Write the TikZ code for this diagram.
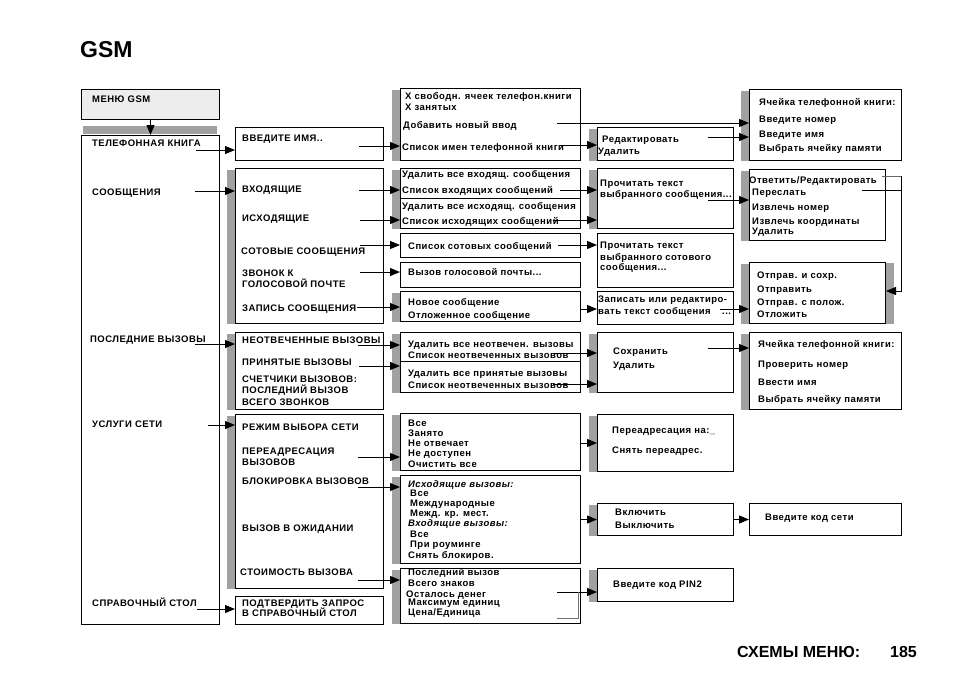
\documentclass[tikz,border=0pt]{standalone}
\usepackage{fontspec}
\setmainfont{Liberation Sans}
\newfontfamily\menufont[LetterSpace=5]{Liberation Sans}
\usetikzlibrary{arrows.meta}

\tikzset{
  box/.style={draw, line width=1pt, anchor=north west, inner sep=0pt, fill=white},
  bar/.style={fill=black!37},
  txt/.style={anchor=base west, inner sep=0pt, font=\menufont\fontsize{9.5}{11}\selectfont\bfseries},
  arr/.style={line width=1pt, -{Triangle[length=10pt,width=8pt]}},
  ln/.style={line width=1pt},
}

\begin{document}
\begin{tikzpicture}[x=1pt,y=-1pt]
  \useasboundingbox (0,0) rectangle (954,673);

  \node[anchor=base west, inner sep=0pt, font=\fontsize{23}{26}\selectfont\bfseries] (title) at (80,57) {GSM};
  \node[anchor=base west, inner sep=0pt, font=\fontsize{16}{18}\selectfont\bfseries] (foot) at (737,657) {СХЕМЫ МЕНЮ:};
  \node[anchor=base west, inner sep=0pt, font=\fontsize{16}{18}\selectfont\bfseries] (page) at (890,657) {185};

  % boxes
  \node[box, fill=black!7, minimum width=138, minimum height=30] (menu) at (81,89) {};
  \node[box, minimum width=138, minimum height=489] (main) at (81,135) {};
  \fill[bar] (83,126) rectangle (217,134);

  \node[box, minimum width=148, minimum height=33] (enter) at (235,127) {};
  \node[box, minimum width=148, minimum height=155] (msgs) at (235,168) {};
  \node[box, minimum width=148, minimum height=77] (calls) at (235,332) {};
  \node[box, minimum width=148, minimum height=174] (serv) at (235,414) {};
  \node[box, minimum width=148, minimum height=28] (help) at (235,596) {};

  \node[box, minimum width=180, minimum height=72] (bookinfo) at (400,88) {};
  \node[box, minimum width=180, minimum height=30] (inlist) at (400,168) {};
  \node[box, minimum width=180, minimum height=30] (outlist) at (400,198) {};
  \node[box, minimum width=180, minimum height=24] (celllist) at (400,233) {};
  \node[box, minimum width=180, minimum height=25] (voice) at (400,262) {};
  \node[box, minimum width=180, minimum height=30] (newmsg) at (400,291) {};
  \node[box, minimum width=180, minimum height=29] (missed) at (400,332) {};
  \node[box, minimum width=180, minimum height=31] (received) at (400,361) {};
  \node[box, minimum width=180, minimum height=57] (fwdopt) at (400,413) {};
  \node[box, minimum width=180, minimum height=88] (barring) at (400,475) {};
  \node[box, minimum width=180, minimum height=55] (cost) at (400,568) {};

  \node[box, minimum width=136, minimum height=33] (edit) at (597,127) {};
  \node[box, minimum width=136, minimum height=60] (readin) at (597,168) {};
  \node[box, minimum width=136, minimum height=54] (readcell) at (597,233) {};
  \node[box, minimum width=136, minimum height=33] (write) at (597,291) {};
  \node[box, minimum width=136, minimum height=60] (save) at (597,332) {};
  \node[box, minimum width=136, minimum height=57] (fwdto) at (597,414) {};
  \node[box, minimum width=136, minimum height=32] (onoff) at (597,503) {};
  \node[box, minimum width=136, minimum height=33] (pin) at (597,568) {};

  \node[box, minimum width=152, minimum height=71] (cell1) at (749,89) {};
  \node[box, minimum width=136, minimum height=71] (reply) at (749,169) {};
  \node[box, minimum width=136, minimum height=61] (send) at (749,262) {};
  \node[box, minimum width=152, minimum height=77] (cell2) at (749,332) {};
  \node[box, minimum width=152, minimum height=32] (netcode) at (749,503) {};

  % grey edges
  \foreach \b in {msgs,calls,serv,bookinfo,newmsg,fwdopt,barring,cost,edit,readin,save,fwdto,onoff,pin,cell1,reply,send,cell2}
    \fill[bar] ([xshift=-8pt,yshift=-2pt]\b.north west) rectangle (\b.south west);
  \fill[bar] ([xshift=-8pt,yshift=-2pt]inlist.north west) rectangle (outlist.south west);
  \fill[bar] ([xshift=-8pt,yshift=-2pt]missed.north west) rectangle (received.south west);
  \fill[bar] ([yshift=-1pt]send.north east) rectangle ([xshift=8pt]send.south east);

  % texts
  \node[txt] (menu-t) at (92,102) {МЕНЮ GSM};
  \node[txt] (book) at (92,146) {ТЕЛЕФОННАЯ КНИГА};
  \node[txt] (msg) at (92,195) {СООБЩЕНИЯ};
  \node[txt] (last) at (90,342) {ПОСЛЕДНИЕ ВЫЗОВЫ};
  \node[txt] (serv-t) at (92,427) {УСЛУГИ СЕТИ};
  \node[txt] (desk) at (92,606) {СПРАВОЧНЫЙ СТОЛ};

  \node[txt] (enter-t) at (242,141) {ВВЕДИТЕ ИМЯ..};
  \node[txt] (in-t) at (242,192) {ВХОДЯЩИЕ};
  \node[txt] (out-t) at (242,221) {ИСХОДЯЩИЕ};
  \node[txt] (cb-t) at (241,254) {СОТОВЫЕ СООБЩЕНИЯ};
  \node[txt] (vm-a) at (242,276) {ЗВОНОК К};
  \node[txt] (vm-b) at (242,287) {ГОЛОСОВОЙ ПОЧТЕ};
  \node[txt] (rec-t) at (242,311) {ЗАПИСЬ СООБЩЕНИЯ};
  \node[txt] (missed-t) at (242,343) {НЕОТВЕЧЕННЫЕ ВЫЗОВЫ};
  \node[txt] (recv-t) at (242,365) {ПРИНЯТЫЕ ВЫЗОВЫ};
  \node[txt] (cnt-a) at (242,382) {СЧЕТЧИКИ ВЫЗОВОВ:};
  \node[txt] (cnt-b) at (242,393) {ПОСЛЕДНИЙ ВЫЗОВ};
  \node[txt] (cnt-c) at (242,405) {ВСЕГО ЗВОНКОВ};
  \node[txt] (mode-t) at (242,430) {РЕЖИМ ВЫБОРА СЕТИ};
  \node[txt] (fw-a) at (242,454) {ПЕРЕАДРЕСАЦИЯ};
  \node[txt] (fw-b) at (242,465) {ВЫЗОВОВ};
  \node[txt] (bar-t) at (242,484) {БЛОКИРОВКА ВЫЗОВОВ};
  \node[txt] (wait-t) at (242,531) {ВЫЗОВ В ОЖИДАНИИ};
  \node[txt] (cost-t) at (240,575) {СТОИМОСТЬ ВЫЗОВА};
  \node[txt] (conf-a) at (242,606) {ПОДТВЕРДИТЬ ЗАПРОС};
  \node[txt] (conf-b) at (242,616) {В СПРАВОЧНЫЙ СТОЛ};

  \node[txt] (info-a) at (405,99) {Х свободн. ячеек телефон.книги};
  \node[txt] (info-b) at (405,110) {Х занятых};
  \node[txt] (info-c) at (403,128) {Добавить новый ввод};
  \node[txt] (info-d) at (402,150) {Список имен телефонной книги};
  \node[txt] (in-a) at (402,177) {Удалить все входящ. сообщения};
  \node[txt] (in-b) at (402,193) {Список входящих сообщений};
  \node[txt] (out-a) at (402,209) {Удалить все исходящ. сообщения};
  \node[txt] (out-b) at (402,224) {Список исходящих сообщений};
  \node[txt] (cb-a) at (408,249) {Список сотовых сообщений};
  \node[txt] (vm-c) at (408,275) {Вызов голосовой почты...};
  \node[txt] (new-a) at (408,305) {Новое сообщение};
  \node[txt] (new-b) at (408,318) {Отложенное сообщение};
  \node[txt] (mis-a) at (408,347) {Удалить все неотвечен. вызовы};
  \node[txt] (mis-b) at (408,358) {Список неотвеченных вызовов};
  \node[txt] (rcv-a) at (408,376) {Удалить все принятые вызовы};
  \node[txt] (rcv-b) at (408,388) {Список неотвеченных вызовов};
  \node[txt] (opt-a) at (408,426) {Все};
  \node[txt] (opt-b) at (408,436) {Занято};
  \node[txt] (opt-c) at (408,446) {Не отвечает};
  \node[txt] (opt-d) at (408,456) {Не доступен};
  \node[txt] (opt-e) at (408,467) {Очистить все};
  \node[txt, font=\menufont\fontsize{9.5}{11}\selectfont\bfseries\itshape] (bar-a) at (408,487) {Исходящие вызовы:};
  \node[txt] (bar-b) at (410,496) {Все};
  \node[txt] (bar-c) at (410,506) {Международные};
  \node[txt] (bar-d) at (410,516) {Межд. кр. мест.};
  \node[txt, font=\menufont\fontsize{9.5}{11}\selectfont\bfseries\itshape] (bar-e) at (408,526) {Входящие вызовы:};
  \node[txt] (bar-f) at (410,537) {Все};
  \node[txt] (bar-g) at (410,547) {При роуминге};
  \node[txt] (bar-h) at (408,558) {Снять блокиров.};
  \node[txt] (cost-a) at (408,575) {Последний вызов};
  \node[txt] (cost-b) at (408,586) {Всего знаков};
  \node[txt] (cost-c) at (406,597) {Осталось денег};
  \node[txt] (cost-d) at (408,605) {Максимум единиц};
  \node[txt] (cost-e) at (408,615) {Цена/Единица};

  \node[txt] (edit-a) at (602,142) {Редактировать};
  \node[txt] (edit-b) at (598,154) {Удалить};
  \node[txt] (read-a) at (600,186) {Прочитать текст};
  \node[txt] (read-b) at (600,197) {выбранного сообщения...};
  \node[txt] (rc-a) at (600,248) {Прочитать текст};
  \node[txt] (rc-b) at (600,260) {выбранного сотового};
  \node[txt] (rc-c) at (600,270) {сообщения...};
  \node[txt] (wr-a) at (598,302) {Записать или редактиро-};
  \node[txt] (wr-b) at (598,314) {вать текст сообщения};
  \node[txt] (wr-c) at (722,314) {...};
  \node[txt] (save-a) at (613,354) {Сохранить};
  \node[txt] (save-b) at (613,368) {Удалить};
  \node[txt] (to-a) at (612,433) {Переадресация на:\_};
  \node[txt] (to-b) at (612,453) {Снять переадрес.};
  \node[txt] (on-a) at (615,515) {Включить};
  \node[txt] (on-b) at (615,528) {Выключить};
  \node[txt] (pin-t) at (613,587) {Введите код PIN2};

  \node[txt] (c1-a) at (759,105) {Ячейка телефонной книги:};
  \node[txt] (c1-b) at (759,122) {Введите номер};
  \node[txt] (c1-c) at (759,137) {Введите имя};
  \node[txt] (c1-d) at (759,151) {Выбрать ячейку памяти};
  \node[txt] (rp-a) at (749,183) {Ответить/Редактировать};
  \node[txt] (rp-b) at (752,195) {Переслать};
  \node[txt] (rp-c) at (752,210) {Извлечь номер};
  \node[txt] (rp-d) at (752,224) {Извлечь координаты};
  \node[txt] (rp-e) at (752,234) {Удалить};
  \node[txt] (sd-a) at (757,278) {Отправ. и сохр.};
  \node[txt] (sd-b) at (757,292) {Отправить};
  \node[txt] (sd-c) at (757,305) {Отправ. с полож.};
  \node[txt] (sd-d) at (757,317) {Отложить};
  \node[txt] (c2-a) at (758,347) {Ячейка телефонной книги:};
  \node[txt] (c2-b) at (758,367) {Проверить номер};
  \node[txt] (c2-c) at (758,385) {Ввести имя};
  \node[txt] (c2-d) at (758,402) {Выбрать ячейку памяти};
  \node[txt] (net-t) at (765,520) {Введите код сети};

  % arrow starts
  \coordinate (s-book) at (196,150);
  \coordinate (s-msg) at (195,191);
  \coordinate (s-last) at (195,344);
  \coordinate (s-serv) at (208,425);
  \coordinate (s-desk) at (197,609);
  \coordinate (s-enter) at (359,146);
  \coordinate (s-in) at (359,190);
  \coordinate (s-out) at (360,220);
  \coordinate (s-cb) at (360,245);
  \coordinate (s-vm) at (360,272);
  \coordinate (s-rec) at (357,307);
  \coordinate (s-mis) at (358,345);
  \coordinate (s-rcv) at (359,366);
  \coordinate (s-fw) at (358,457);
  \coordinate (s-bar) at (358,487);
  \coordinate (s-cost) at (358,580);
  \coordinate (s-add) at (557,123);
  \coordinate (s-list) at (560,145);
  \coordinate (s-inl) at (560,190);
  \coordinate (s-outl) at (553,220);
  \coordinate (s-cbl) at (558,245);
  \coordinate (s-new) at (580,309);
  \coordinate (s-misl) at (553,353);
  \coordinate (s-rcvl) at (553,384);
  \coordinate (s-opt) at (580,443);
  \coordinate (s-money) at (557,592);
  \coordinate (s-money2) at (557,618);
  \coordinate (s-joint) at (578,592);
  \coordinate (s-edit) at (708,137);
  \coordinate (s-read) at (708,200);
  \coordinate (s-write) at (720,309);
  \coordinate (s-save) at (708,348);
  \coordinate (s-reply) at (882,176);
  \coordinate (s-fwd) at (862,190);
  \coordinate (s-turn) at (901,291);

  % connectors
  \draw[arr] (menu.south) -- (menu.south |- main.north);
  \draw[arr] (s-book) -- (enter.west |- s-book);
  \draw[arr] (s-msg) -- (msgs.west |- s-msg);
  \draw[arr] (s-last) -- (calls.west |- s-last);
  \draw[arr] (s-serv) -- (serv.west |- s-serv);
  \draw[arr] (s-desk) -- (help.west |- s-desk);
  \draw[arr] (s-enter) -- (bookinfo.west |- s-enter);
  \draw[arr] (s-in) -- (inlist.west |- s-in);
  \draw[arr] (s-out) -- (outlist.west |- s-out);
  \draw[arr] (s-cb) -- (celllist.west |- s-cb);
  \draw[arr] (s-vm) -- (voice.west |- s-vm);
  \draw[arr] (s-rec) -- (newmsg.west |- s-rec);
  \draw[arr] (s-mis) -- (missed.west |- s-mis);
  \draw[arr] (s-rcv) -- (received.west |- s-rcv);
  \draw[arr] (s-fw) -- (fwdopt.west |- s-fw);
  \draw[arr] (s-bar) -- (barring.west |- s-bar);
  \draw[arr] (s-cost) -- (cost.west |- s-cost);
  \draw[arr] (s-add) -- (cell1.west |- s-add);
  \draw[arr] (s-list) -- (edit.west |- s-list);
  \draw[arr] (s-inl) -- (readin.west |- s-inl);
  \draw[arr] (s-outl) -- (readin.west |- s-outl);
  \draw[arr] (s-cbl) -- (readcell.west |- s-cbl);
  \draw[arr] (s-new) -- (write.west |- s-new);
  \draw[arr] (s-misl) -- (save.west |- s-misl);
  \draw[arr] (s-rcvl) -- (save.west |- s-rcvl);
  \draw[arr] (s-opt) -- (fwdto.west |- s-opt);
  \draw[arr] (barring.east) -- (onoff.west |- barring.east);
  \draw[arr] (s-money) -- (pin.west |- s-money);
  \draw[ln, black!55] (s-money2) -- (s-money2 -| s-joint) -- (s-joint);
  \draw[arr] (s-edit) -- (cell1.west |- s-edit);
  \draw[arr] (s-read) -- (reply.west |- s-read);
  \draw[arr] (s-write) -- (send.west |- s-write);
  \draw[arr] (s-save) -- (cell2.west |- s-save);
  \draw[arr] (onoff.east) -- (netcode.west);
  \draw[ln, black!60] (s-reply) -- (s-reply -| s-turn);
  \draw[ln] (s-fwd) -- (s-fwd -| s-turn);
  \draw[arr] (s-reply -| s-turn) -- (s-turn) -- (send.east |- s-turn);
\end{tikzpicture}
\end{document}
